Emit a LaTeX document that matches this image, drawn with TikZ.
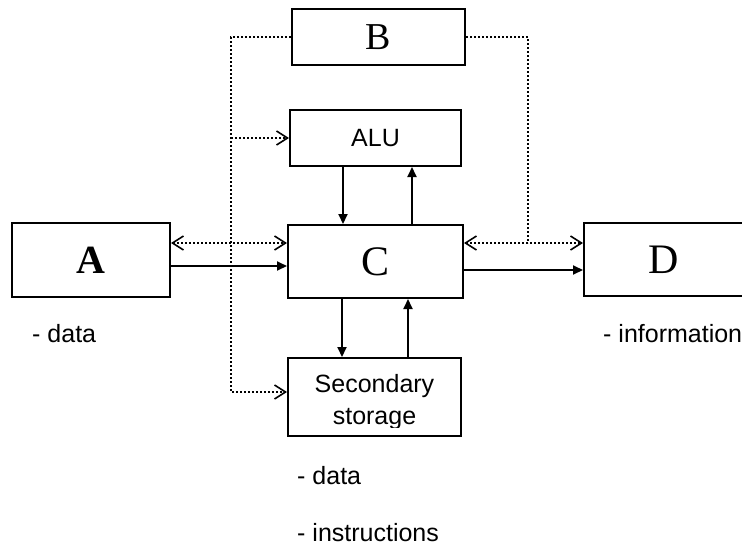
\documentclass[tikz,border=0pt]{standalone}
\usepackage{fontspec}
\setmainfont{Liberation Serif}
\setsansfont{Liberation Sans}
\usetikzlibrary{arrows.meta}
\tikzset{box/.style = {draw, line width=2, inner sep=0}}
\tikzset{txt/.style = {font=\sffamily\fontsize{25}{32}\selectfont, inner sep=0}}
\tikzset{arr/.style = {line width=2, -{Triangle[length=10pt, width=9pt]}}}
\tikzset{dots/.style = {line width=2, dash pattern=on 2pt off 2pt}}
\tikzset{barb/.style = {-{Straight Barb[length=11pt, width=14pt, line width=1.6pt]}}}
\tikzset{barbs/.style = {{Straight Barb[length=11pt, width=14pt, line width=1.6pt]}-{Straight Barb[length=11pt, width=14pt, line width=1.6pt]}}}
\newcommand{\bigletter}[1]{\fontsize{#1}{#1}\selectfont}

\begin{document}
\begin{tikzpicture}[x=1pt, y=-1pt]
    \useasboundingbox (0, 0) rectangle (742, 544);

    \node [box, minimum width=158, minimum height=74] (a) at (91, 260) {\bigletter{40}\bfseries A};
    \node [box, minimum width=173, minimum height=56] (b) at (378.5, 37) {\raisebox{-3pt}{\bigletter{38}B}};
    \node [box, minimum width=171, minimum height=56] (alu) at (375.5, 138) {\sffamily\bigletter{25}ALU};
    \node [box, minimum width=175, minimum height=73] (c) at (375.5, 261.5) {\bigletter{42}C};
    \node [box, minimum width=173, minimum height=78] (ss) at (374.5, 397) {};
    \node [box, minimum width=159, minimum height=73] (d) at (663.5, 259.5) {\bigletter{42}D};

    \begin{scope}
      \clip (ss.north west) rectangle ([yshift=10]ss.south east);
      \node [txt, align=center, anchor=north] (sstext) at (374.5, 374) {Secondary\\storage};
    \end{scope}

    \node [txt, anchor=base west] (datain) at (32, 342) {- data};
    \node [txt, anchor=base west] (infoout) at (603, 342) {- information};
    \node [txt, anchor=base west] (datastore) at (297, 484) {- data};
    \node [txt, anchor=base west] (inststore) at (297, 541) {- instructions};

    \draw [arr] ([xshift=-32.5]alu.south) -- ([xshift=-32.5]alu.south |- c.north);
    \draw [arr] ([xshift=36.5]c.north) -- ([xshift=36.5]c.north |- alu.south);
    \draw [arr] ([xshift=-33.5]c.south) -- ([xshift=-33.5]c.south |- ss.north);
    \draw [arr] ([xshift=33.5]ss.north) -- ([xshift=33.5]ss.north |- c.south);
    \draw [arr] ([yshift=-6]a.east) -- ([yshift=-6]a.east -| c.west);
    \draw [arr] ([yshift=-8.5]c.east) -- ([yshift=-8.5]c.east -| d.west);

    \coordinate (ac) at ([yshift=17]a.east);
    \coordinate (cd) at ([yshift=18.5]c.east);
    \coordinate (lbus) at ([xshift=-60]b.west);
    \coordinate (rbus) at ([xshift=62]b.east);
    \coordinate (sin) at ([yshift=5]ss.west);

    \draw [dots, barbs] (ac) -- (ac -| c.west);
    \draw [dots, barbs] (cd) -- (cd -| d.west);
    \draw [dots, barb] (b.west) -- (lbus) -- (lbus |- sin) -- (sin);
    \draw [dots, barb] (lbus |- alu.west) -- (alu.west);
    \draw [dots] (b.east) -- (rbus) -- (rbus |- cd);
\end{tikzpicture}
\end{document}
